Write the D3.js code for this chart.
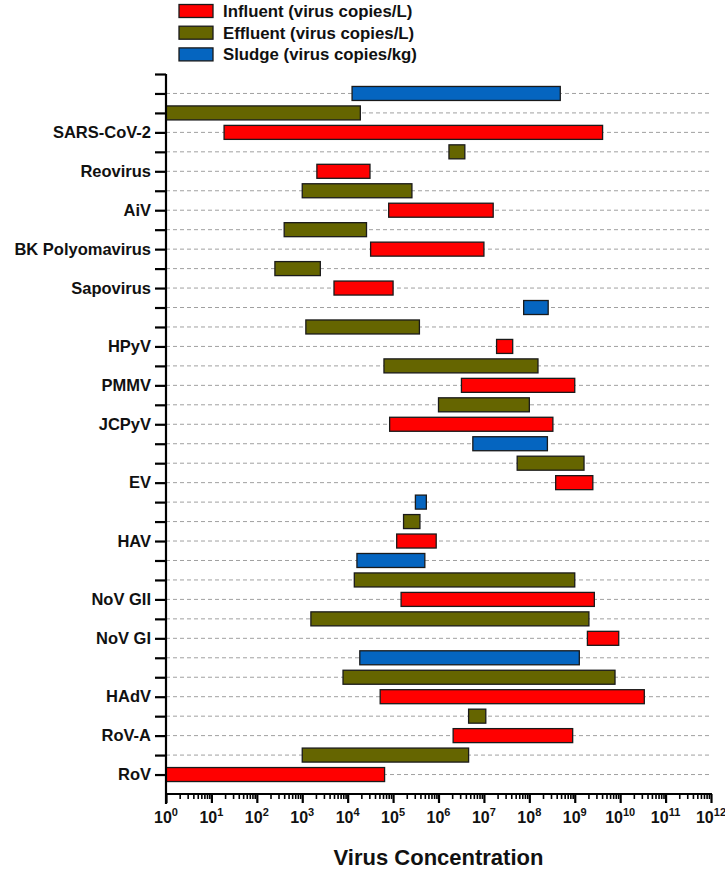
<!DOCTYPE html>
<html>
<head>
<meta charset="utf-8">
<script src="https://cdn.jsdelivr.net/npm/d3@7"></script>
<style>
  html, body { margin: 0; padding: 0; background: #fff; }
  svg { display: block; font-family: "Liberation Sans", Arial, sans-serif; }
</style>
</head>
<body>
<svg id="chart" width="725" height="870"></svg>
<script>
// ---- data ----
const categories = ["SARS-CoV-2", "Reovirus", "AiV", "BK Polyomavirus", "Sapovirus", "HPyV", "PMMV",
  "JCPyV", "EV", "HAV", "NoV GII", "NoV GI", "HAdV", "RoV-A", "RoV"];
const influent = [[19, 4.1e9], [2.1e3, 3.1e4], [8e4, 1.6e7], [3.2e4, 1.0e7], [5e3, 1.0e5], [1.9e7, 4.3e7],
  [3.2e6, 1.0e9], [8.4e4, 3.3e8], [3.8e8, 2.5e9], [1.2e5, 8.9e5], [1.5e5, 2.7e9], [1.9e9, 9.3e9],
  [5.2e4, 3.4e10], [2.1e6, 9e8], [1, 6.5e4]];
const effluent = [[1, 1.9e4], [1.7e6, 3.8e6], [1e3, 2.6e5], [4e2, 2.6e4], [2.5e2, 2.5e3], [1.2e3, 3.8e5],
  [6.3e4, 1.55e8], [1e6, 1.0e8], [5.4e7, 1.6e9], [1.7e5, 3.9e5], [1.4e4, 1.0e9], [1.55e3, 2.05e9],
  [7.9e3, 7.7e9], [4.6e6, 1.1e7], [1e3, 4.6e6]];
const sludge = [[1.25e4, 4.8e8], null, null, null, null, [7.5e7, 2.6e8], null, null, [5.7e6, 2.5e8],
  [3.1e5, 5.4e5], [1.6e4, 5e5], null, [1.85e4, 1.26e9], null, null];
const seriesNames = ["Influent (virus copies/L)", "Effluent (virus copies/L)", "Sludge (virus copies/kg)"];
const seriesKeys = ["influent", "effluent", "sludge"];
const xTickExponents = d3.range(0, 13);
const xTitle = "Virus Concentration";

// ---- build rows: per category sludge (if any), effluent, influent (labelled) ----
const rows = [];
categories.forEach((c, i) => {
  if (sludge[i]) rows.push({cat: c, key: "sludge", range: sludge[i]});
  rows.push({cat: c, key: "effluent", range: effluent[i]});
  rows.push({cat: c, key: "influent", range: influent[i], label: c});
});
rows.forEach((r, i) => r.idx = i + 1);

const colors = {influent: "#ff0000", effluent: "#656500", sludge: "#0565c0"};

const svg = d3.select("#chart");
const mLeft = 166, mRight = 711, mTop = 74, mBottom = 794;

const x = d3.scaleLog().domain([1, 1e12]).range([mLeft, mRight]);
const y = d3.scaleLinear().domain([0, rows.length + 1]).range([mTop, mBottom]);

// gridlines
svg.append("g").selectAll("line").data(rows).join("line")
  .attr("x1", mLeft).attr("x2", mRight + 1)
  .attr("y1", d => y(d.idx)).attr("y2", d => y(d.idx))
  .attr("stroke", "#a0a0a0").attr("stroke-width", 1).attr("stroke-dasharray", "4,3");

// bars
const barH = 14;
svg.append("g").selectAll("rect").data(rows).join("rect")
  .attr("x", d => x(d.range[0]))
  .attr("width", d => x(d.range[1]) - x(d.range[0]))
  .attr("y", d => y(d.idx) - barH / 2)
  .attr("height", barH)
  .attr("fill", d => colors[d.key])
  .attr("stroke", "#1a1a1a").attr("stroke-width", 1.3);

// y axis
const tickIdx = d3.range(0, rows.length + 1);
const yAxis = d3.axisLeft(y).tickValues(tickIdx).tickSize(11)
  .tickFormat(i => { const r = rows[i - 1]; return r && r.label ? r.label : ""; });
const gy = svg.append("g").attr("transform", `translate(${mLeft},0)`).call(yAxis);
gy.select(".domain").attr("d", `M0,${mTop}V${mBottom + 10}`).attr("stroke", "#000").attr("stroke-width", 2.2);
gy.selectAll(".tick line").attr("stroke", "#000").attr("stroke-width", 2.2);
gy.selectAll(".tick text").attr("font-size", 16.5).attr("font-weight", "bold").attr("fill", "#111")
  .attr("font-family", "'Liberation Sans', Arial, sans-serif").attr("x", -15);

// x axis: major ticks
const majors = xTickExponents.map(e => Math.pow(10, e));
const xAxis = d3.axisBottom(x).tickValues(majors).tickSize(9).tickFormat("");
const gx = svg.append("g").attr("transform", `translate(0,${mBottom})`).call(xAxis);
gx.select(".domain").attr("d", `M${mLeft},0H${mRight + 1}`).attr("stroke", "#000").attr("stroke-width", 2.2);
gx.selectAll(".tick line").attr("stroke", "#000").attr("stroke-width", 2.2);

// minor ticks
const minors = [];
xTickExponents.slice(0, -1).forEach(e => { for (let m = 2; m <= 9; m++) minors.push(m * Math.pow(10, e)); });
const gxm = svg.append("g").attr("transform", `translate(0,${mBottom})`)
  .call(d3.axisBottom(x).tickValues(minors).tickSize(5).tickFormat(""));
gxm.select(".domain").remove();
gxm.selectAll(".tick line").attr("stroke", "#000").attr("stroke-width", 1.6);

// tick labels with superscripts
const lab = svg.append("g").selectAll("text").data(xTickExponents).join("text")
  .attr("x", e => x(Math.pow(10, e)))
  .attr("y", mBottom + 29)
  .attr("text-anchor", "middle")
  .attr("font-size", 16).attr("font-weight", "bold").attr("fill", "#111");
lab.append("tspan").text("10");
lab.append("tspan").attr("dy", -7).attr("font-size", 11).text(e => e);

// x title
svg.append("text").attr("x", (mLeft + mRight) / 2).attr("y", 865)
  .attr("text-anchor", "middle").attr("font-size", 22).attr("font-weight", "bold").attr("fill", "#111")
  .text(xTitle);

// legend
const lg = svg.append("g");
seriesKeys.forEach((k, i) => {
  const cy = 11 + i * 21.7;
  lg.append("rect").attr("x", 179).attr("y", cy - 6.5).attr("width", 34).attr("height", 13)
    .attr("fill", colors[k]).attr("stroke", "#1a1a1a").attr("stroke-width", 1.3);
  lg.append("text").attr("x", 223).attr("y", cy + 6).attr("font-size", 16.8).attr("font-weight", "bold")
    .attr("fill", "#111").text(seriesNames[i]);
});
</script>
</body>
</html>
